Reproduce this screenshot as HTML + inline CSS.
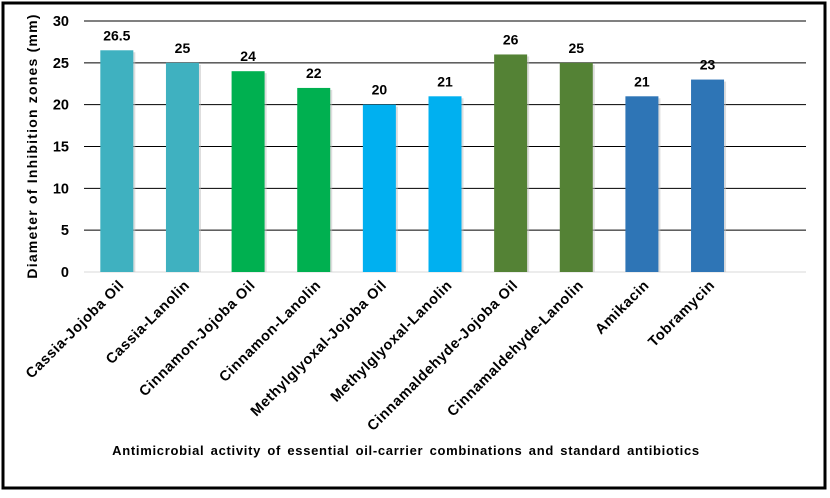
<!DOCTYPE html>
<html><head><meta charset="utf-8"><style>
body{margin:0;background:#fff;}
svg text{font-family:"Liberation Sans",Arial,sans-serif;font-weight:bold;fill:#000;}
</style></head><body>
<svg width="830" height="493" xmlns="http://www.w3.org/2000/svg">
<rect x="3" y="3" width="822" height="485" fill="#fff" stroke="#000" stroke-width="3"/>
<g id="grid"></g><g id="bars"></g><g id="labels"></g>
<text x="406" y="455" font-size="13" text-anchor="middle" letter-spacing="0.7" word-spacing="2">Antimicrobial activity of essential oil-carrier combinations and standard antibiotics</text>
<text transform="translate(37,146) rotate(-90)" font-size="14" letter-spacing="1.2" text-anchor="middle">Diameter of  Inhibition zones (mm)</text>
</svg>
<script>
const categories=["Cassia-Jojoba Oil","Cassia-Lanolin","Cinnamon-Jojoba Oil","Cinnamon-Lanolin","Methylglyoxal-Jojoba Oil","Methylglyoxal-Lanolin","Cinnamaldehyde-Jojoba  Oil","Cinnamaldehyde-Lanolin","Amikacin","Tobramycin"];
const values=[26.5,25,24,22,20,21,26,25,21,23];
const valueLabels=["26.5","25","24","22","20","21","26","25","21","23"];
const colors=["#3FB1C0","#3FB1C0","#00B050","#00B050","#00B0F0","#00B0F0","#548235","#548235","#2E75B6","#2E75B6"];
const ticks=[0,5,10,15,20,25,30];
const NS="http://www.w3.org/2000/svg";
const x0=84,x1=806,y0=272,y30=21,slots=11;
const slotW=(x1-x0)/slots;
function y(v){return y0-(y0-y30)*v/30;}
function xc(i){return x0+slotW*(i+0.5);}
function mk(t,a,p){const e=document.createElementNS(NS,t);for(const k in a)e.setAttribute(k,a[k]);p.appendChild(e);return e;}
const g=document.getElementById('grid');
ticks.forEach(t=>{
 const l=mk('line',{x1:x0,x2:x1,y1:y(t),y2:y(t),stroke:t===0?'#d9d9d9':'#000','stroke-width':1},g);
 
 
 const tx=mk('text',{x:69,y:y(t)+5,'font-size':14.5,'text-anchor':'end'},g);
 tx.textContent=t;
 
 
});
const b=document.getElementById('bars'),lb=document.getElementById('labels');
values.forEach((v,i)=>{
 const bw=33;
 const sh=mk('rect',{x:xc(i)-bw/2+2,y:y(v)+2,width:bw,height:y0-y(v)-2,fill:'#bbb',opacity:0.5},b);
 
 
 const r=mk('rect',{x:xc(i)-bw/2,y:y(v),width:bw,height:y0-y(v),fill:colors[i]},b);
 
 
 const vt=mk('text',{x:xc(i),y:y(v)-10,'font-size':14,'text-anchor':'middle'},b);
 vt.textContent=valueLabels[i];
 
 
 const ct=mk('text',{transform:`translate(${xc(i)+8},${286}) rotate(-45)`,'font-size':14.5,'letter-spacing':0.6,'text-anchor':'end'},lb);
 ct.textContent=categories[i];
 
 
});
</script>
</body></html>
